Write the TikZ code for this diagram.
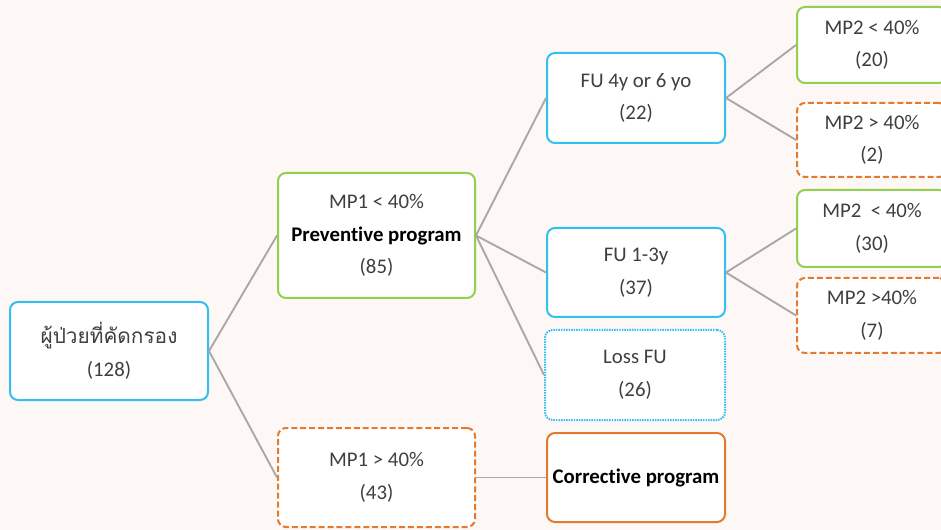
\documentclass[tikz,border=0pt]{standalone}
\usepackage{fontspec}
\setmainfont[Ligatures=NoCommon]{Carlito}
\newfontfamily\thaifont[Script=Thai]{Loma}
\definecolor{bgcol}{HTML}{FDF7F5}
\definecolor{boxblue}{HTML}{33C0F0}
\definecolor{boxgreen}{HTML}{92D050}
\definecolor{boxorange}{HTML}{E27A30}
\definecolor{linkgray}{HTML}{A8A8A8}
\definecolor{txtgray}{HTML}{3F3F3F}
\tikzset{
  box/.style={draw, fill=white, rounded corners=6pt, line width=1.5pt,
    align=center, text=txtgray, inner sep=0pt,
    font=\fontsize{15.6}{24.5}\selectfont},
  bluebox/.style={box, draw=boxblue},
  greenbox/.style={box, draw=boxgreen},
  orangebox/.style={box, draw=boxorange},
  orangedash/.style={box, draw=boxorange, dash pattern=on 4.5pt off 2.2pt},
  bluedot/.style={box, draw=boxblue, dash pattern=on 1.1pt off 0.8pt},
  link/.style={draw=linkgray, line width=1.4pt}
}
\begin{document}
\begin{tikzpicture}[x=0.75pt,y=-0.75pt]
\useasboundingbox (0,0) rectangle (941,530);
\clip (0,0) rectangle (941,530);
\fill[bgcol] (0,0) rectangle (941,530);
% first level
\node[bluebox, minimum width=148.5pt, minimum height=73.5pt] (root) at (109,351)
  {{\thaifont ผู้ป่วยที่คัดกรอง}\\(128)};
\node[greenbox, minimum width=147.75pt, minimum height=93.75pt] (mplow) at (376.5,235.5)
  {MP1 < 40\%\\\textcolor{black}{\textbf{Preventive program}}\\(85)};
\node[orangedash, minimum width=147.75pt, minimum height=74.25pt] (mphigh) at (376.5,477.5)
  {MP1 > 40\%\\(43)};
% follow up
\node[bluebox, minimum width=133.5pt, minimum height=67.5pt] (fufour) at (636,98)
  {FU 4y or 6 yo\\(22)};
\node[bluebox, minimum width=133.5pt, minimum height=66.75pt] (fuone) at (636,272.5)
  {FU 1-3y\\(37)};
\node[bluedot, minimum width=135pt, minimum height=67.5pt] (lossfu) at (635,375)
  {Loss FU\\(26)};
\node[orangebox, minimum width=133.5pt, minimum height=66.75pt] (corr) at (636,477.5)
  {\textcolor{black}{\textbf{Corrective program}}};
% second measurement
\node[greenbox, minimum width=112.5pt, minimum height=57pt] (mptwoa) at (872,45)
  {MP2 < 40\%\\(20)};
\node[orangedash, minimum width=112.5pt, minimum height=55.5pt] (mptwob) at (872,140)
  {MP2 > 40\%\\(2)};
\node[greenbox, minimum width=112.5pt, minimum height=57.75pt] (mptwoc) at (872,228.5)
  {MP2 \ < 40\%\\(30)};
\node[orangedash, minimum width=112.5pt, minimum height=56.25pt] (mptwod) at (872,315.5)
  {MP2 >40\%\\(7)};
% links
\draw[link] (root.east) -- (mplow.west);
\draw[link] (root.east) -- (mphigh.west);
\draw[link] (mplow.east) -- (fufour.west);
\draw[link] (mplow.east) -- (fuone.west);
\draw[link] (mplow.east) -- (lossfu.west);
\draw[link] (mphigh.east) -- (corr.west);
\draw[link] (fufour.east) -- (mptwoa.west);
\draw[link] (fufour.east) -- (mptwob.west);
\draw[link] (fuone.east) -- (mptwoc.west);
\draw[link] (fuone.east) -- (mptwod.west);
\end{tikzpicture}
\end{document}
